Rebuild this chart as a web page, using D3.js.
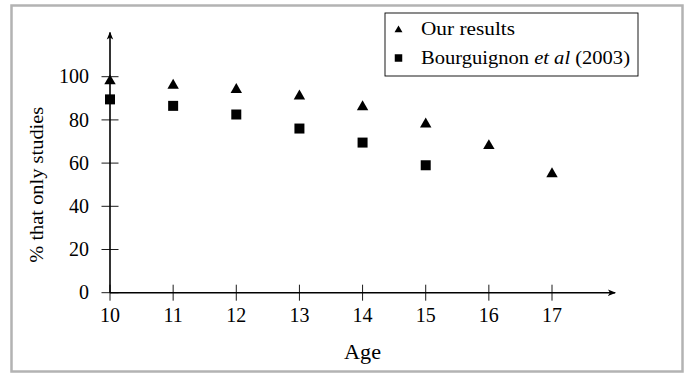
<!DOCTYPE html>
<html>
<head>
<meta charset="utf-8">
<style>
body { margin: 0; background: #fff; }
text { font-family: "Liberation Serif", "DejaVu Serif", serif; fill: #000; }
.axis-line { stroke: #000; stroke-width: 1.6px; fill: none; }
.tick line { stroke: #000; stroke-width: 0.9px; }
</style>
<script src="https://cdn.jsdelivr.net/npm/d3@7"></script>
</head>
<body>
<script>
// data
var ages = [10, 11, 12, 13, 14, 15, 16, 17];
var ourResults = [98, 96, 94, 91, 86, 78, 68, 55];
var bourgAges = [10, 11, 12, 13, 14, 15];
var bourgResults = [89.5, 86.5, 82.5, 76, 69.5, 59];
var yTicks = [0, 20, 40, 60, 80, 100];
var seriesNames = ["Our results", "Bourguignon", "et al", "(2003)"];

var width = 688, height = 374;

var svg = d3.select("body").append("svg")
    .attr("width", width)
    .attr("height", height);

// grey frame
svg.append("rect")
    .attr("x", 11.5).attr("y", 5.5)
    .attr("width", 671).attr("height", 366)
    .attr("fill", "none")
    .attr("stroke", "#b3b3b3")
    .attr("stroke-width", 2.5);

var x = d3.scaleLinear().domain([10, 17]).range([110, 552]);
var y = d3.scaleLinear().domain([0, 100]).range([292.7, 76.7]);

// arrow head
svg.append("defs").append("marker")
    .attr("id", "arrow")
    .attr("viewBox", "0 0 10 10")
    .attr("refX", 9).attr("refY", 5)
    .attr("markerWidth", 5).attr("markerHeight", 5)
    .attr("markerUnits", "strokeWidth")
    .attr("orient", "auto")
  .append("path")
    .attr("d", "M0,1 L10,5 L0,9 L2.5,5 Z")
    .attr("fill", "#000");

// axis lines with arrows
svg.append("line").attr("class", "axis-line")
    .attr("x1", x(10)).attr("y1", y(0))
    .attr("x2", x(18)).attr("y2", y(0))
    .attr("marker-end", "url(#arrow)");
svg.append("line").attr("class", "axis-line")
    .attr("x1", x(10)).attr("y1", y(0))
    .attr("x2", x(10)).attr("y2", y(120.5))
    .attr("marker-end", "url(#arrow)");

// x ticks
var xt = svg.append("g").selectAll("g")
    .data(ages).enter().append("g")
    .attr("class", "tick")
    .attr("transform", function(d) { return "translate(" + x(d) + "," + y(0) + ")"; });
xt.append("line").attr("y1", -8).attr("y2", 8);
xt.append("text")
    .attr("y", 29)
    .attr("text-anchor", "middle")
    .style("font-size", "20px")
    .text(function(d) { return d; });

// y ticks
var yt = svg.append("g").selectAll("g")
    .data(yTicks).enter().append("g")
    .attr("class", "tick")
    .attr("transform", function(d) { return "translate(" + x(10) + "," + y(d) + ")"; });
yt.append("line").attr("x1", -8.5).attr("x2", 8.5);
yt.append("text")
    .attr("x", -21)
    .attr("dy", "0.33em")
    .attr("text-anchor", "end")
    .style("font-size", "20px")
    .text(function(d) { return d; });

// axis labels
svg.append("text")
    .attr("x", (x(10) + x(18)) / 2)
    .attr("y", 359)
    .attr("text-anchor", "middle")
    .attr("textLength", 37)
    .attr("lengthAdjust", "spacingAndGlyphs")
    .style("font-size", "20px")
    .text("Age");

svg.append("text")
    .attr("transform", "translate(43," + y(50) + ") rotate(-90)")
    .attr("text-anchor", "middle")
    .attr("textLength", 156)
    .attr("lengthAdjust", "spacingAndGlyphs")
    .style("font-size", "19px")
    .text("% that only studies");

// markers
function triPath(r) {
  var h = r * Math.sqrt(3) / 2;
  return "M0," + (-r) + "L" + h + "," + (r / 2) + "L" + (-h) + "," + (r / 2) + "Z";
}
function sqPath(s) {
  return "M" + (-s / 2) + "," + (-s / 2) + "h" + s + "v" + s + "h" + (-s) + "Z";
}

svg.append("g").selectAll("path")
    .data(ages.map(function(a, i) { return [a, ourResults[i]]; }))
    .enter().append("path")
    .attr("d", triPath(6.6))
    .attr("transform", function(d) { return "translate(" + x(d[0]) + "," + y(d[1]) + ")"; })
    .attr("fill", "#000");

svg.append("g").selectAll("path")
    .data(bourgAges.map(function(a, i) { return [a, bourgResults[i]]; }))
    .enter().append("path")
    .attr("d", sqPath(10))
    .attr("transform", function(d) { return "translate(" + x(d[0]) + "," + y(d[1]) + ")"; })
    .attr("fill", "#000");

// legend
var legend = svg.append("g");
legend.append("rect")
    .attr("x", 385).attr("y", 13)
    .attr("width", 253).attr("height", 63)
    .attr("fill", "#fff")
    .attr("stroke", "#000")
    .attr("stroke-width", 0.9);
legend.append("path")
    .attr("d", triPath(4.6))
    .attr("transform", "translate(398.5,30)")
    .attr("fill", "#000");
legend.append("path")
    .attr("d", sqPath(7.5))
    .attr("transform", "translate(398.5,58)")
    .attr("fill", "#000");
legend.append("text")
    .attr("x", 421).attr("y", 34.5)
    .attr("textLength", 94)
    .attr("lengthAdjust", "spacingAndGlyphs")
    .style("font-size", "19px")
    .text(seriesNames[0]);
var t2 = legend.append("text")
    .attr("x", 421).attr("y", 64)
    .attr("textLength", 209)
    .attr("lengthAdjust", "spacingAndGlyphs")
    .style("font-size", "19px");
t2.append("tspan").text(seriesNames[1] + " ");
t2.append("tspan").style("font-style", "italic").text(seriesNames[2]);
t2.append("tspan").text(" " + seriesNames[3]);
</script>
</body>
</html>
